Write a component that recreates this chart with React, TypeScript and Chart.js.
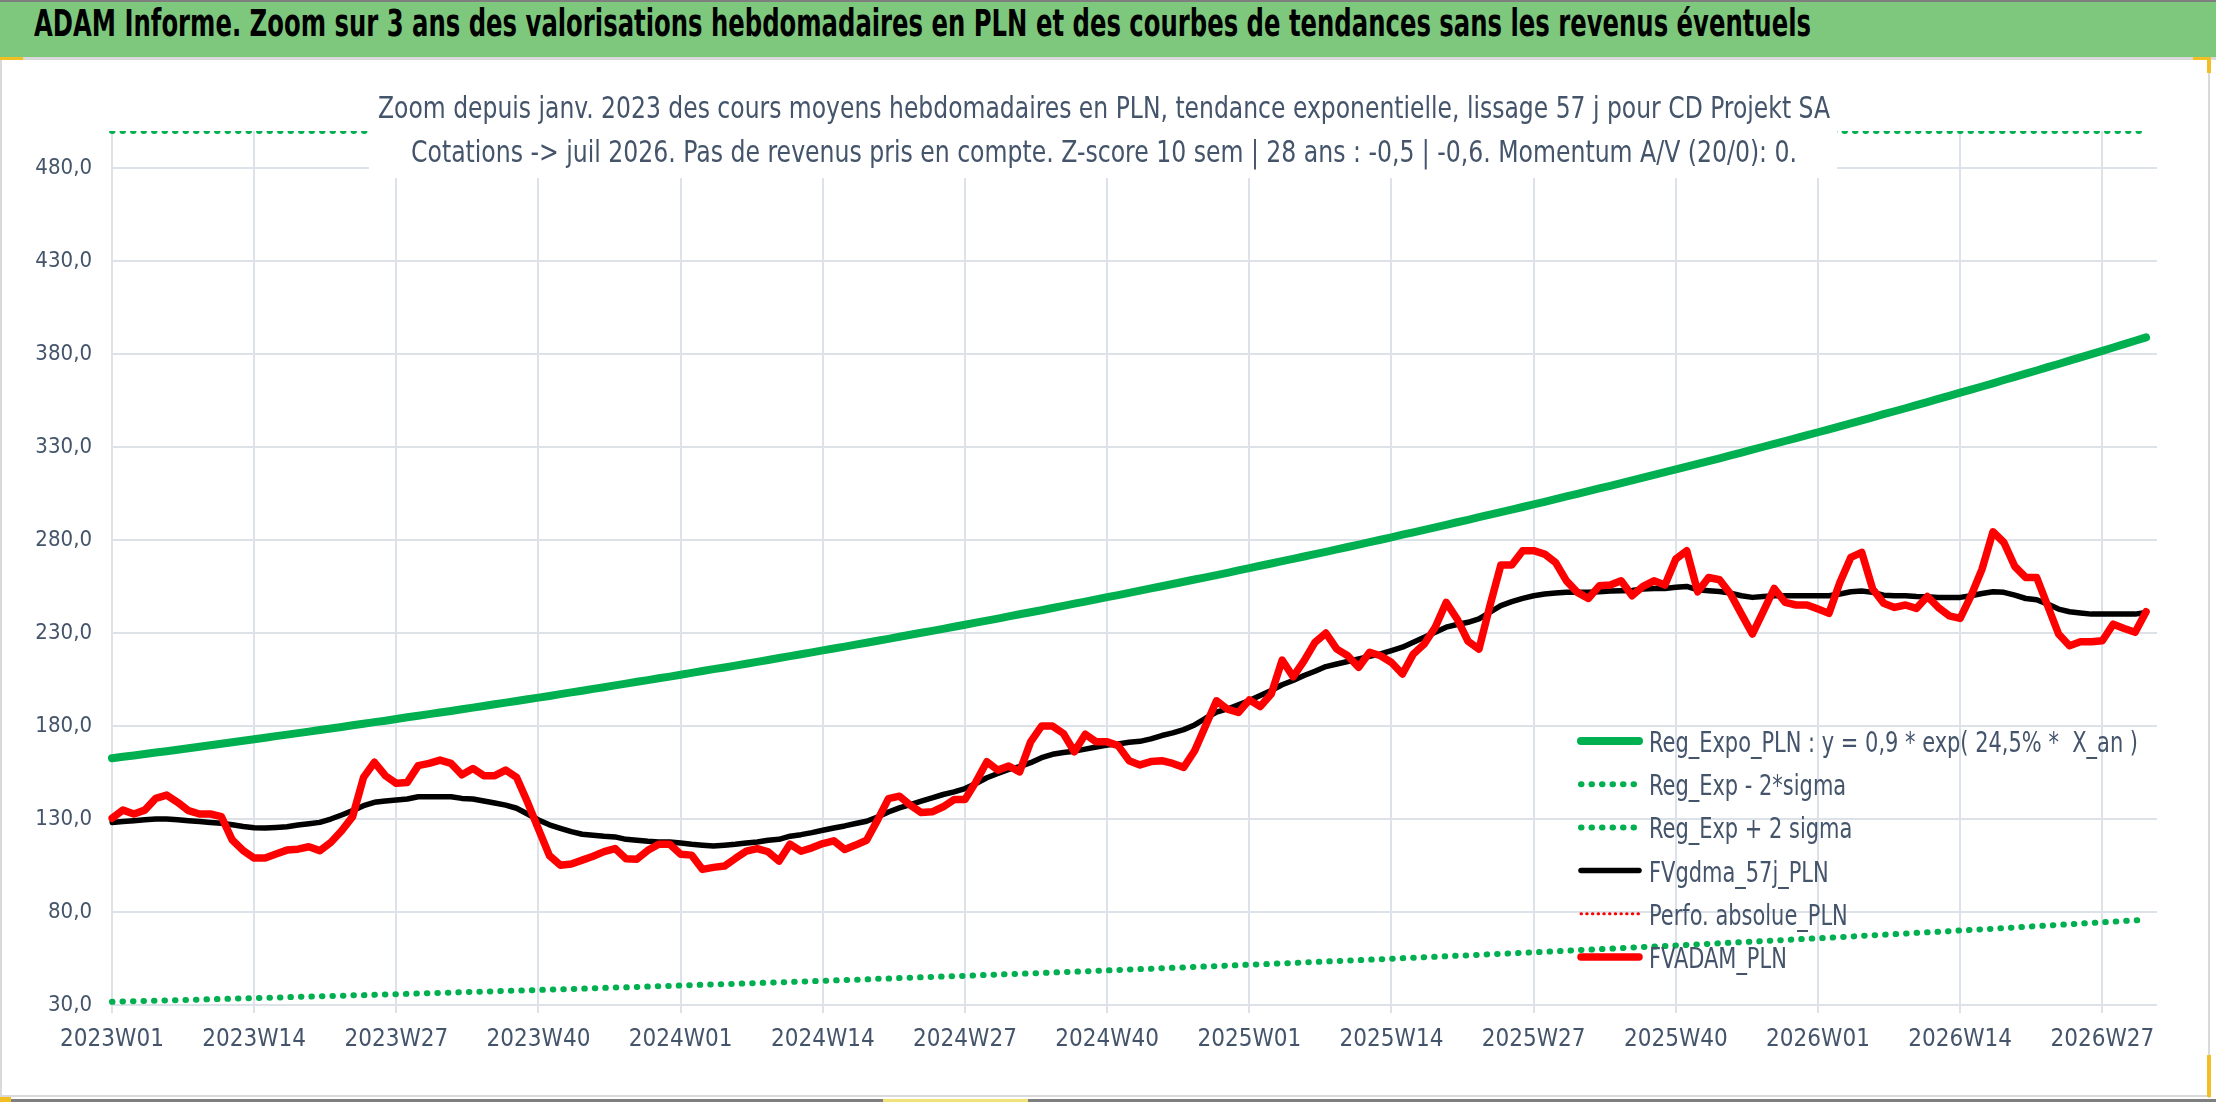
import { useEffect, useLayoutEffect, useRef } from "react";
import { Chart, registerables } from "chart.js";

Chart.register(...registerables);

const FONT = '"Liberation Sans Narrow", "DejaVu Sans Condensed", "Open Sans", sans-serif';
const SLATE = "#44546A";
const GRID = "#DDE1E8";

const TITLE =
  "ADAM Informe. Zoom sur 3 ans des valorisations hebdomadaires en PLN et des courbes de tendances sans les revenus éventuels";
const SUBTITLE = [
  "Zoom depuis janv. 2023 des cours moyens hebdomadaires en PLN, tendance exponentielle, lissage 57 j pour CD Projekt SA",
  "Cotations -> juil 2026. Pas de revenus pris en compte. Z-score 10 sem | 28 ans : -0,5 | -0,6. Momentum A/V (20/0): 0.",
];

// weekly categories 2023W01 .. 2026W32, a label every 13 weeks
const yearWeeks: Array<[number, number]> = [
  [2023, 52],
  [2024, 52],
  [2025, 52],
  [2026, 32],
];
const weekLabels = yearWeeks.flatMap(([year, n]) =>
  Array.from({ length: n }, (_, i) => `${year}W${String(i + 1).padStart(2, "0")}`)
);
const LABEL_STEP = 13;

const yTicks = [30, 80, 130, 180, 230, 280, 330, 380, 430, 480];
const Y_MIN = 30;
const Y_MAX = 500;

const legendLabels = [
  "Reg_Expo_PLN : y = 0,9 * exp( 24,5% *  X_an )",
  "Reg_Exp - 2*sigma",
  "Reg_Exp + 2 sigma",
  "FVgdma_57j_PLN",
  "Perfo. absolue_PLN",
  "FVADAM_PLN",
];

const regExpo = [
  162.7, 163.5, 164.2, 165.0, 165.8, 166.5, 167.3, 168.1, 168.9, 169.7,
  170.5, 171.3, 172.1, 172.9, 173.7, 174.6, 175.4, 176.2, 177.0, 177.9,
  178.7, 179.5, 180.4, 181.2, 182.1, 182.9, 183.8, 184.7, 185.5, 186.4,
  187.3, 188.1, 189.0, 189.9, 190.8, 191.7, 192.6, 193.5, 194.4, 195.3,
  196.2, 197.2, 198.1, 199.0, 200.0, 200.9, 201.9, 202.8, 203.8, 204.7,
  205.7, 206.6, 207.6, 208.6, 209.6, 210.6, 211.5, 212.5, 213.5, 214.5,
  215.5, 216.6, 217.6, 218.6, 219.6, 220.7, 221.7, 222.7, 223.8, 224.8,
  225.9, 226.9, 228.0, 229.1, 230.2, 231.2, 232.3, 233.4, 234.5, 235.6,
  236.7, 237.8, 239.0, 240.1, 241.2, 242.3, 243.5, 244.6, 245.8, 246.9,
  248.1, 249.3, 250.4, 251.6, 252.8, 254.0, 255.2, 256.4, 257.6, 258.8,
  260.0, 261.2, 262.4, 263.7, 264.9, 266.2, 267.4, 268.7, 269.9, 271.2,
  272.5, 273.7, 275.0, 276.3, 277.6, 278.9, 280.2, 281.5, 282.9, 284.2,
  285.5, 286.9, 288.2, 289.6, 290.9, 292.3, 293.7, 295.1, 296.4, 297.8,
  299.2, 300.6, 302.1, 303.5, 304.9, 306.3, 307.8, 309.2, 310.7, 312.1,
  313.6, 315.1, 316.5, 318.0, 319.5, 321.0, 322.5, 324.0, 325.6, 327.1,
  328.6, 330.2, 331.7, 333.3, 334.9, 336.4, 338.0, 339.6, 341.2, 342.8,
  344.4, 346.0, 347.7, 349.3, 350.9, 352.6, 354.2, 355.9, 357.6, 359.3,
  360.9, 362.6, 364.3, 366.1, 367.8, 369.5, 371.2, 373.0, 374.7, 376.5,
  378.3, 380.0, 381.8, 383.6, 385.4, 387.2, 389.0,
];

const regLower = [
  31.7, 31.9, 32.0, 32.2, 32.3, 32.5, 32.6, 32.8, 32.9, 33.1,
  33.2, 33.4, 33.6, 33.7, 33.9, 34.0, 34.2, 34.4, 34.5, 34.7,
  34.8, 35.0, 35.2, 35.3, 35.5, 35.7, 35.8, 36.0, 36.2, 36.3,
  36.5, 36.7, 36.9, 37.0, 37.2, 37.4, 37.6, 37.7, 37.9, 38.1,
  38.3, 38.5, 38.6, 38.8, 39.0, 39.2, 39.4, 39.5, 39.7, 39.9,
  40.1, 40.3, 40.5, 40.7, 40.9, 41.1, 41.2, 41.4, 41.6, 41.8,
  42.0, 42.2, 42.4, 42.6, 42.8, 43.0, 43.2, 43.4, 43.6, 43.8,
  44.1, 44.2, 44.5, 44.7, 44.9, 45.1, 45.3, 45.5, 45.7, 45.9,
  46.2, 46.4, 46.6, 46.8, 47.0, 47.2, 47.5, 47.7, 47.9, 48.1,
  48.4, 48.6, 48.8, 49.1, 49.3, 49.5, 49.8, 50.0, 50.2, 50.5,
  50.7, 50.9, 51.2, 51.4, 51.7, 51.9, 52.1, 52.4, 52.6, 52.9,
  53.1, 53.4, 53.6, 53.9, 54.1, 54.4, 54.6, 54.9, 55.2, 55.4,
  55.7, 55.9, 56.2, 56.5, 56.7, 57.0, 57.3, 57.5, 57.8, 58.1,
  58.3, 58.6, 58.9, 59.2, 59.5, 59.7, 60.0, 60.3, 60.6, 60.9,
  61.2, 61.4, 61.7, 62.0, 62.3, 62.6, 62.9, 63.2, 63.5, 63.8,
  64.1, 64.4, 64.7, 65.0, 65.3, 65.6, 65.9, 66.2, 66.5, 66.8,
  67.2, 67.5, 67.8, 68.1, 68.4, 68.8, 69.1, 69.4, 69.7, 70.1,
  70.4, 70.7, 71.0, 71.4, 71.7, 72.1, 72.4, 72.7, 73.1, 73.4,
  73.8, 74.1, 74.5, 74.8, 75.2, 75.5, 75.9,
];

// above the axis maximum for the whole period: shown on the top edge like the source
const regUpper = [
  859, 863, 867, 871, 875, 879, 883, 887, 891, 895,
  899, 903, 907, 912, 916, 920, 924, 928, 933, 937,
  941, 946, 950, 954, 959, 963, 968, 972, 977, 981,
  986, 990, 995, 999, 1004, 1009, 1013, 1018, 1022, 1027,
  1032, 1037, 1041, 1046, 1051, 1056, 1061, 1066, 1070, 1075,
  1080, 1085, 1090, 1095, 1100, 1105, 1110, 1115, 1120, 1126,
  1131, 1136, 1141, 1147, 1152, 1157, 1163, 1168, 1173, 1179,
  1184, 1190, 1195, 1201, 1206, 1212, 1217, 1223, 1229, 1234,
  1240, 1246, 1251, 1257, 1263, 1269, 1275, 1281, 1286, 1292,
  1298, 1304, 1310, 1316, 1322, 1328, 1334, 1340, 1346, 1352,
  1359, 1365, 1371, 1377, 1384, 1390, 1396, 1403, 1409, 1416,
  1422, 1429, 1435, 1442, 1449, 1455, 1462, 1469, 1475, 1482,
  1489, 1496, 1503, 1510, 1517, 1524, 1531, 1538, 1545, 1552,
  1559, 1566, 1573, 1581, 1588, 1595, 1603, 1610, 1617, 1625,
  1632, 1640, 1647, 1655, 1662, 1670, 1678, 1685, 1693, 1701,
  1709, 1717, 1724, 1732, 1740, 1748, 1756, 1764, 1772, 1781,
  1789, 1797, 1805, 1813, 1822, 1830, 1839, 1847, 1856, 1864,
  1873, 1882, 1890, 1899, 1908, 1917, 1926, 1935, 1944, 1952,
  1961, 1970, 1979, 1988, 1997, 2006, 2016,
];

const fvGdma = [
  128.2, 128.7, 129.1, 129.6, 130.0, 130.0, 129.6, 129.1, 128.7, 128.2,
  127.7, 126.9, 126.0, 125.3, 125.2, 125.5, 125.9, 126.8, 127.5, 128.2,
  130.0, 132.2, 134.5, 137.2, 139.0, 139.7, 140.2, 140.8, 142.0, 142.0,
  142.0, 142.0, 141.1, 140.8, 139.7, 138.6, 137.5, 135.8, 132.7, 129.5,
  126.9, 125.0, 123.2, 121.8, 121.3, 120.7, 120.4, 119.1, 118.6, 118.0,
  117.7, 117.7, 117.1, 116.4, 115.9, 115.5, 115.9, 116.4, 117.1, 117.7,
  118.6, 119.1, 120.8, 121.6, 122.7, 124.0, 125.2, 126.3, 127.6, 128.8,
  131.1, 133.8, 136.0, 137.8, 139.6, 141.4, 143.2, 144.6, 146.4, 149.1,
  152.2, 154.5, 156.7, 158.1, 160.3, 163.0, 164.8, 165.8, 166.5, 167.6,
  168.7, 169.8, 170.4, 171.3, 171.8, 173.1, 174.9, 176.3, 178.1, 180.6,
  184.2, 187.5, 189.2, 191.4, 193.7, 196.4, 199.1, 202.2, 204.5, 207.2,
  209.5, 212.0, 213.4, 214.7, 216.1, 217.5, 218.8, 220.6, 222.4, 225.1,
  227.8, 230.5, 233.2, 234.6, 235.8, 237.6, 241.2, 244.8, 246.9, 248.7,
  250.1, 251.0, 251.5, 251.9, 251.9, 251.9, 252.2, 252.6, 252.8, 252.9,
  253.7, 254.0, 254.0, 254.6, 255.1, 253.3, 252.8, 252.4, 251.5, 250.1,
  249.2, 249.7, 250.1, 250.1, 250.1, 250.1, 250.1, 250.1, 251.0, 252.2,
  252.6, 251.9, 250.4, 250.1, 250.1, 249.7, 249.5, 249.2, 249.2, 249.2,
  250.1, 251.3, 252.2, 251.9, 250.4, 248.6, 247.9, 245.6, 242.9, 241.5,
  240.8, 240.2, 240.2, 240.2, 240.2, 240.2, 241.1,
];

const perfoAbsolue: number[] = [];

const fvAdam = [
  130.4, 134.8, 132.7, 134.8, 141.1, 142.9, 139.0, 134.5, 132.7, 132.7,
  131.3, 118.7, 113.0, 109.0, 109.0, 111.2, 113.3, 113.8, 115.1, 113.0,
  117.4, 123.7, 131.3, 152.4, 160.5, 153.3, 149.2, 149.7, 158.7, 159.9,
  161.7, 159.9, 153.8, 157.2, 153.3, 153.3, 156.3, 152.4, 139.0, 124.6,
  110.3, 105.2, 105.8, 107.9, 110.0, 112.5, 114.1, 108.7, 108.4, 113.2,
  116.5, 116.5, 111.1, 110.6, 102.9, 104.0, 104.7, 108.8, 112.7, 114.1,
  112.4, 107.4, 116.5, 112.7, 114.5, 116.8, 118.3, 113.6, 116.0, 118.6,
  129.4, 141.0, 142.3, 137.5, 133.5, 133.9, 136.6, 140.5, 140.5, 150.0,
  160.8, 156.3, 158.5, 155.4, 171.5, 180.0, 180.0, 176.0, 166.2, 175.6,
  171.5, 171.5, 169.5, 161.4, 159.1, 160.9, 161.4, 159.9, 157.8, 166.7,
  180.2, 193.6, 189.1, 187.3, 194.1, 190.5, 197.2, 215.5, 206.5, 215.1,
  225.0, 230.0, 221.4, 217.8, 211.6, 219.7, 217.8, 214.2, 208.0, 218.8,
  224.1, 233.1, 246.5, 237.6, 225.6, 221.4, 244.7, 266.6, 266.6, 274.3,
  274.3, 272.5, 268.0, 258.1, 251.9, 248.6, 255.4, 255.8, 258.1, 250.1,
  255.1, 258.1, 255.8, 269.8, 274.3, 252.2, 259.9, 258.7, 251.0, 240.2,
  229.5, 241.7, 254.0, 246.5, 245.1, 245.1, 242.9, 240.6, 257.2, 270.7,
  273.4, 253.7, 246.1, 243.8, 245.1, 243.3, 249.7, 243.8, 239.3, 237.9,
  250.1, 264.4, 284.5, 278.7, 265.8, 259.9, 259.9, 244.7, 229.5, 223.2,
  225.3, 225.3, 225.9, 234.8, 232.5, 230.4, 241.5,
];

// draws text squeezed/stretched horizontally to a target width
function fillFitted(ctx: CanvasRenderingContext2D, text: string, x: number, y: number, width: number) {
  const natural = ctx.measureText(text).width || 1;
  ctx.save();
  ctx.translate(x, y);
  ctx.scale(width / natural, 1);
  ctx.fillText(text, 0, 0);
  ctx.restore();
}

// subtitle box over the top of the plot and the legend in the lower right
const overlayPlugin = {
  id: "overlay",
  afterDraw(chart: any) {
    const ctx: CanvasRenderingContext2D = chart.ctx;
    ctx.save();
    ctx.fillStyle = "#FFFFFF";
    ctx.fillRect(369, 0, 1468, 116);

    ctx.fillStyle = SLATE;
    ctx.textBaseline = "alphabetic";
    ctx.textAlign = "center";
    ctx.font = `31px ${FONT}`;
    fillFitted(ctx, SUBTITLE[0], 1104, 56, 1452);
    fillFitted(ctx, SUBTITLE[1], 1104, 100, 1386);

    ctx.font = `28px ${FONT}`;
    ctx.textAlign = "left";
    const datasets = chart.data.datasets;
    const sx = 489 / (ctx.measureText(datasets[0].label).width || 1);
    datasets.forEach((ds: any, i: number) => {
      const y = 679 + i * 43.2;
      ctx.beginPath();
      ctx.strokeStyle = ds.borderColor;
      ctx.lineWidth = ds.borderWidth;
      ctx.lineCap = ds.borderCapStyle || "butt";
      ctx.setLineDash(ds.borderDash || []);
      ctx.moveTo(1581, y);
      ctx.lineTo(1639, y);
      ctx.stroke();
      ctx.setLineDash([]);
      ctx.fillStyle = SLATE;
      ctx.save();
      ctx.translate(1649, y + 11);
      ctx.scale(sx, 1);
      ctx.fillText(ds.label, 0, 0);
      ctx.restore();
    });
    ctx.restore();
  },
};

function TrendChart() {
  const chartRef = useRef<HTMLCanvasElement>(null);
  const chartInstance = useRef<Chart | null>(null);

  useEffect(() => {
    if (!chartRef.current) return;
    const ctx = chartRef.current.getContext("2d");
    if (!ctx) return;

    if (chartInstance.current) {
      chartInstance.current.destroy();
    }

    const line = { pointRadius: 0, borderJoinStyle: "round", tension: 0, fill: false };
    const dots = { borderWidth: 6, borderDash: [0.5, 10], borderCapStyle: "round" };

    chartInstance.current = new Chart(ctx, {
      type: "line",
      data: {
        labels: weekLabels,
        datasets: [
          { ...line, label: legendLabels[0], data: regExpo, borderColor: "#00B050", borderWidth: 8, borderCapStyle: "round", order: 4 },
          { ...line, ...dots, label: legendLabels[1], data: regLower, borderColor: "#00B050", order: 5 },
          { ...line, ...dots, label: legendLabels[2], data: regUpper.map((v) => Math.min(v, Y_MAX)), borderColor: "#00B050", order: 5 },
          { ...line, label: legendLabels[3], data: fvGdma, borderColor: "#000000", borderWidth: 5.5, borderCapStyle: "round", order: 1 },
          { ...line, label: legendLabels[4], data: perfoAbsolue, borderColor: "#FF0000", borderWidth: 3, borderDash: [0.5, 5.2], borderCapStyle: "round", order: 2 },
          { ...line, label: legendLabels[5], data: fvAdam, borderColor: "#FF0000", borderWidth: 7.5, borderCapStyle: "round", order: 0 },
        ],
      } as any,
      options: {
        animation: false,
        responsive: true,
        maintainAspectRatio: false,
        layout: { padding: { left: 0, right: 55, top: 69, bottom: 0 } },
        plugins: {
          legend: { display: false },
          tooltip: { enabled: false },
        },
        scales: {
          x: {
            type: "category",
            border: { display: false },
            grid: { color: GRID, lineWidth: 2, drawTicks: true, tickLength: 8 },
            ticks: {
              autoSkip: false,
              maxRotation: 0,
              minRotation: 0,
              padding: 12,
              color: SLATE,
              font: { family: FONT, size: 24 },
              callback: (_v: any, i: number) => (i % LABEL_STEP === 0 ? weekLabels[i] : null),
            },
            afterFit: (scale: any) => {
              scale.height = 91;
            },
          },
          y: {
            min: Y_MIN,
            max: Y_MAX,
            border: { display: false },
            grid: { color: GRID, lineWidth: 2, drawTicks: false },
            ticks: {
              padding: 20,
              color: SLATE,
              font: { family: FONT, size: 22 },
              callback: (v: any) => Number(v).toFixed(1).replace(".", ","),
            },
            afterBuildTicks: (scale: any) => {
              scale.ticks = yTicks.map((value) => ({ value }));
            },
            afterFit: (scale: any) => {
              scale.width = 112;
            },
          },
        },
      } as any,
      plugins: [overlayPlugin],
    });

    return () => {
      if (chartInstance.current) {
        chartInstance.current.destroy();
        chartInstance.current = null;
      }
    };
  }, []);

  return <canvas ref={chartRef} />;
}

function TitleText() {
  const ref = useRef<HTMLSpanElement>(null);

  useLayoutEffect(() => {
    const el = ref.current;
    if (!el) return;
    el.style.transform = "none";
    const w = el.offsetWidth;
    if (w > 0) el.style.transform = `scaleX(${1777 / w})`;
  }, []);

  return (
    <span
      ref={ref}
      style={{
        position: "absolute",
        left: 34,
        top: 0,
        lineHeight: "57px",
        font: `bold 37px ${FONT}`,
        color: "#000000",
        whiteSpace: "nowrap",
        transformOrigin: "left center",
      }}
    >
      {TITLE}
    </span>
  );
}

const abs = (left: number, top: number, width: number, height: number, background: string) => (
  <div style={{ position: "absolute", left, top, width, height, background }} />
);

export default function App() {
  return (
    <div
      style={{
        position: "fixed",
        left: 0,
        top: 0,
        width: 2216,
        height: 1102,
        background: "#FFFFFF",
        overflow: "hidden",
      }}
    >
      <div style={{ position: "absolute", left: 0, top: 2, width: 2216, height: 55, background: "#7DC87D" }}>
        <TitleText />
      </div>
      {abs(0, 0, 2216, 2, "#7F7F7F")}
      {abs(0, 57, 2216, 3, "#D9D9D9")}
      <div style={{ position: "absolute", left: 0, top: 62, width: 2212, height: 1034 }}>
        <TrendChart />
      </div>
      {abs(0, 60, 2, 1038, "#D9D9D9")}
      {abs(2208, 60, 2, 1038, "#D9D9D9")}
      {abs(0, 1095, 2210, 2, "#D9D9D9")}
      {abs(0, 1099, 2216, 3, "#7F7F7F")}
      {abs(0, 57, 23, 3, "#F2BE22")}
      {abs(2193, 57, 18, 3, "#F2BE22")}
      {abs(2207, 57, 4, 16, "#F2BE22")}
      {abs(2207, 1055, 4, 42, "#F2BE22")}
      {abs(0, 1097, 11, 5, "#F2BE22")}
      {abs(883, 1099, 145, 3, "#F2E27A")}
    </div>
  );
}
